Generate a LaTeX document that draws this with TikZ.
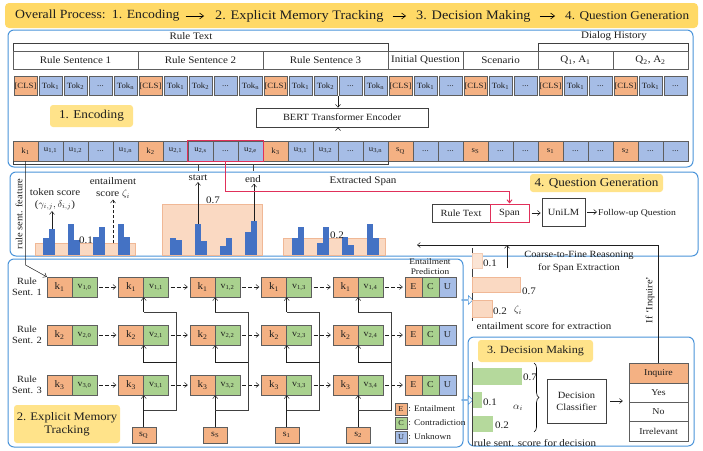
\documentclass[tikz,border=0pt]{standalone}
\usepackage{fontspec}
\setmainfont{Liberation Serif}[FakeStretch=1.1]
\usetikzlibrary{arrows.meta,calc,decorations.pathreplacing,fit,shapes.arrows}
\definecolor{orc}{HTML}{F4B183}
\definecolor{blc}{HTML}{A6BDE6}
\definecolor{grc}{HTML}{A9D18E}
\definecolor{barb}{HTML}{4472C4}
\definecolor{boxb}{HTML}{4A94DA}
\definecolor{ylw}{HTML}{FFE38A}
\definecolor{bann}{HTML}{FFD966}
\definecolor{redl}{HTML}{E0305A}
\definecolor{bgor}{HTML}{FAD9C2}
\definecolor{bgorl}{HTML}{F0B896}
\definecolor{cellln}{HTML}{5E5E5E}
\definecolor{txt}{HTML}{1E1E1E}
\definecolor{lgrn}{HTML}{B5D99C}
\newcommand{\fsz}[2]{\fontsize{#1}{#2}\selectfont}
\begin{document}
\begin{tikzpicture}[x=1pt,y=-1pt,
  every node/.style={text=txt},
  cellbase/.style={draw=cellln, line width=0.4pt, inner sep=0pt, minimum height=19pt, font=\fsz{8}{9}},
  segcell/.style={draw=cellln, line width=0.4pt, minimum height=18pt, inner sep=0pt, font=\fsz{10}{11}},
  bbox/.style={draw=boxb, line width=1pt, rounded corners=6pt, inner sep=0pt},
  plainbox/.style={draw=txt!85, line width=0.6pt, inner sep=1pt, fill=white, font=\fsz{9.5}{11}},
  ylab/.style={fill=ylw, rounded corners=3pt, inner sep=2pt},
  arr/.style={-{Straight Barb[length=3pt,width=5pt]}, line width=0.5pt, draw=txt},
  conn/.style={line width=0.5pt, draw=txt!85},
  darr/.style={arr, dash pattern=on 4pt off 2pt, shorten <=2pt, shorten >=2pt},
  lbl/.style={font=\fsz{10}{11}, inner sep=1pt},
  bann/.style={anchor=west, font=\fsz{12}{14}, inner sep=0pt},
  bannarr/.style={-{Straight Barb[length=4pt,width=6pt]}, line width=0.6pt},
]
\useasboundingbox (0,0) rectangle (703,450);
\fill[white] (0,0) rectangle (703,450);

% ---------- banner ----------
\node[fill=bann, rounded corners=4pt, minimum width=693pt, minimum height=25pt, inner sep=0pt] (banner) at (351.5,15.5) {};
\node[bann, font=\fsz{12.5}{14}] (p1) at (15,16) {Overall Process:\enspace 1. Encoding};
\node[bann, font=\fsz{13}{14}] (p2) at (215,16) {2. Explicit Memory Tracking};
\node[bann, font=\fsz{13}{14}] (p3) at (416,16) {3. Decision Making};
\node[bann] (p4) at (565,16) {4. Question Generation};
\draw[bannarr] ([xshift=6pt]p1.east) -- ([xshift=-11pt]p2.west);
\draw[bannarr] ([xshift=9pt]p2.east) -- ([xshift=-10pt]p3.west);
\draw[bannarr] ([xshift=9pt]p3.east) -- ([xshift=-10pt]p4.west);

% ---------- big boxes ----------
\node[bbox, minimum width=685pt, minimum height=137pt] (encbox) at (350.5,98.5) {};
\node[bbox, minimum width=688pt, minimum height=84pt] (midbox) at (354,214) {};
\node[bbox, minimum width=455pt, minimum height=188pt] (membox) at (235.5,353) {};
\node[bbox, minimum width=226pt, minimum height=109pt] (decbox) at (581,391.5) {};

% ---------- encoding: segments ----------
\node[lbl] (rtl) at (191,36) {Rule Text};
\node[lbl] (dhl) at (614,36) {Dialog History};
\node[segcell, minimum width=125pt] (seg1) at (75.5,60) {Rule Sentence 1};
\node[segcell, minimum width=125pt] (seg2) at (200.5,60) {Rule Sentence 2};
\node[segcell, minimum width=125pt] (seg3) at (325.5,60) {Rule Sentence 3};
\node[segcell, minimum width=75pt] (seg4) at (425.5,60) {Initial Question};
\node[segcell, minimum width=75pt] (seg5) at (500.5,60) {Scenario};
\node[segcell, minimum width=75pt] (seg6) at (575.5,60) {Q\textsubscript{1}, A\textsubscript{1}};
\node[segcell, minimum width=75pt] (seg7) at (650.5,60) {Q\textsubscript{2}, A\textsubscript{2}};
\draw[conn] (seg1.north west) -- ++(0,-8) -| (seg3.north east);
\draw[conn] (seg6.north west) -- ++(0,-8) -| (seg7.north east);

% token row 1
\foreach \i/\cc/\tx in {0/orc/{[CLS]},1/blc/{Tok\textsubscript{1}},2/blc/{Tok\textsubscript{2}},3/blc/{...},4/blc/{Tok\textsubscript{n}},
  5/orc/{[CLS]},6/blc/{Tok\textsubscript{1}},7/blc/{Tok\textsubscript{2}},8/blc/{...},9/blc/{Tok\textsubscript{n}},
  10/orc/{[CLS]},11/blc/{Tok\textsubscript{1}},12/blc/{Tok\textsubscript{2}},13/blc/{...},14/blc/{Tok\textsubscript{n}},
  15/orc/{[CLS]},16/blc/{Tok\textsubscript{1}},17/blc/{...},18/orc/{[CLS]},19/blc/{Tok\textsubscript{1}},20/blc/{...},
  21/orc/{[CLS]},22/blc/{Tok\textsubscript{1}},23/blc/{...},24/orc/{[CLS]},25/blc/{Tok\textsubscript{1}},26/blc/{...}}
  {\node[cellbase, fill=\cc, minimum width=23.5pt] (t\i) at ({25.5+25*\i},86) {\tx};}

% BERT
\node[plainbox, minimum width=172pt, minimum height=19pt] (bert) at (342,117.5) {BERT Transformer Encoder};
\coordinate (a1) at (338,96);
\draw[arr] (a1) -- (a1 |- bert.north);

% token row 2
\foreach \i/\cc/\tx in {0/orc/{k\textsubscript{1}},1/blc/{u\textsubscript{1,1}},2/blc/{u\textsubscript{1,2}},3/blc/{...},4/blc/{u\textsubscript{1,n}},
  5/orc/{k\textsubscript{2}},6/blc/{u\textsubscript{2,1}},7/blc/{u\textsubscript{2,s}},8/blc/{...},9/blc/{u\textsubscript{2,e}},
  10/orc/{k\textsubscript{3}},11/blc/{u\textsubscript{3,1}},12/blc/{u\textsubscript{3,2}},13/blc/{...},14/blc/{u\textsubscript{3,n}},
  15/orc/{s\textsubscript{Q}},16/blc/{...},17/blc/{...},18/orc/{s\textsubscript{S}},19/blc/{...},20/blc/{...},
  21/orc/{s\textsubscript{1}},22/blc/{...},23/blc/{...},24/orc/{s\textsubscript{2}},25/blc/{...},26/blc/{...}}
  {\node[cellbase, fill=\cc, minimum width=25pt, minimum height=20pt] (r\i) at ({25.5+25*\i},151) {\tx};}
\draw[arr] (bert.south -| a1) -- (bert.south -| a1 |- r12.north);
\node[draw=redl, line width=1pt, inner sep=0pt, fit=(r7)(r9)] (spanbox) {};
\node[ylab, minimum width=83pt, minimum height=22pt, font=\fsz{12}{14}] (encl) at (91.5,116) {1. Encoding};

% bracket below row 2
\draw[conn] (r0.south west) -- ++(0,3) -| (r14.south east);
\draw[conn] (198,164) -- (198,171);
\draw[conn] (253,164) -- (253,171);

% ---------- middle band: bar chart ----------
\node[rotate=90, font=\fsz{9.5}{11}, inner sep=1pt] (rsf) at (19,214) {rule sent. feature};
\draw[draw=bgorl, fill=bgor, line width=0.4pt] (35,243) rectangle (135,255);
\draw[draw=bgorl, fill=bgor, line width=0.4pt] (162,204) rectangle (262,255);
\draw[draw=bgorl, fill=bgor, line width=0.4pt] (283,238) rectangle (385,255);
\foreach \xa/\yt in {43/238,49/229,68/224,74/240,93/237,99/227,118/224,124/237,
  170/238,176/240,195/224,201/241,220/246,226/238,245/232,251/221,
  292/238,298/227,317/243,323/227,342/237,348/245,367/224,373/238}
  {\fill[barb] (\xa,\yt) rectangle ++(6,255-\yt);}
\node[lbl] (v01) at (86,240) {0.1};
\node[lbl] (v07) at (213,200) {0.7};
\node[lbl] (v02) at (337,235) {0.2};
\node[lbl] (ts1) at (55,192) {token score};
\node[lbl] (ts2) at (55,205) {($\gamma_{i,j}, \delta_{i,j}$)};
\node[lbl] (es1) at (113,181) {entailment};
\node[lbl] (es2) at (113,194) {score $\zeta_i$};
\node[lbl] (startl) at (198,178) {start};
\node[lbl] (endl) at (253,179) {end};
\node[lbl] (exsp) at (363,181) {Extracted Span};
\draw[arr] (52,229) -- (ts2.south -| 52,0);
\draw[arr, dash pattern=on 3pt off 2pt] (113,243) -- (es2.south);
\draw[arr] (198,224) -- (startl.south);
\draw[arr] (254,221) -- (endl.south -| 254,0);

% ---------- question generation ----------
\node[ylab, minimum width=133pt, minimum height=18pt, font=\fsz{12}{14}] (qgl) at (596.5,183) {4. Question Generation};
\node[plainbox, minimum width=58pt, minimum height=18pt] (rtq) at (461,213) {Rule Text};
\node[plainbox, draw=redl, line width=1pt, minimum width=39pt, minimum height=18pt] (spq) at (509.5,213) {Span};
\node[plainbox, minimum width=43pt, minimum height=28pt] (unilm) at (563.5,212) {UniLM};
\node[anchor=west, font=\fsz{8.8}{10}, inner sep=1pt] (fq) at (597,213) {Follow-up Question};
\draw[arr, shorten <=2pt, shorten >=1pt] (spq.east) -- (unilm.west |- spq.east);
\draw[arr, shorten <=2pt] (unilm.east) -- (fq.west |- unilm.east);
\draw[redl, line width=1pt, -{Straight Barb[length=3pt,width=5pt]}] (spanbox.south) -- ++(0,30) -| (spq.north);

% ---------- memory tracking ----------
\foreach \r/\yy in {1/287,2/335,3/385} {
  \node[align=center, font=\fsz{9.5}{11}, inner sep=0pt] (rl\r) at (27,\yy) {Rule\\Sent. \r};
  \foreach \c in {0,...,4} {
    \node[cellbase, fill=orc, minimum width=25pt, minimum height=20pt, font=\fsz{10}{11}] (k\r\c) at ({59.5+71.5*\c},\yy) {k\textsubscript{\r}};
    \node[cellbase, fill=grc, minimum width=25pt, minimum height=20pt, font=\fsz{9}{10}] (v\r\c) at ({84.5+71.5*\c},\yy) {v\textsubscript{\r,\c}};
  }
  \node[cellbase, fill=orc, minimum width=17pt, minimum height=20pt, font=\fsz{9}{10}] (e\r) at (413.5,\yy) {E};
  \node[cellbase, fill=grc, minimum width=17pt, minimum height=20pt, font=\fsz{9}{10}] (c\r) at (430.5,\yy) {C};
  \node[cellbase, fill=blc, minimum width=17pt, minimum height=20pt, font=\fsz{9}{10}] (u\r) at (447.5,\yy) {U};
  \foreach \c [evaluate=\c as \n using int(\c+1)] in {0,...,3} {\draw[darr] (v\r\c.east) -- (k\r\n.west);}
  \draw[darr] (v\r4.east) -- (e\r.west);
}
\node[align=center, font=\fsz{8.5}{10}, inner sep=0pt] (entp) at (430,267) {Entailment\\Prediction};
\draw[arr] (r0.south) -- (r0.south |- 0,265) -- (k10.north west);

\foreach \c/\lab in {1/Q,2/S,3/1,4/2} {
  \node[cellbase, fill=orc, minimum width=24pt, minimum height=16pt, font=\fsz{9}{10}] (s\c) at (k3\c.south east |- 0,435) {s\textsubscript{\lab}};
  \draw[arr] (s\c.north) -- (k3\c.south east);
  \draw[conn] ($(s\c.north)+(0,-17)$) -| ($(k1\c.south east)+(33,15)$) -- ($(k1\c.south east)+(0,15)$);
  \draw[arr] ($(k1\c.south east)+(0,15)$) -- (k1\c.south east);
  \draw[arr] ($(k2\c.south east)+(33,17)$) -- ($(k2\c.south east)+(0,17)$) -- (k2\c.south east);
}
\node[ylab, minimum width=106pt, minimum height=38pt, align=center, font=\fsz{11.5}{13.5}] (emtl) at (67,424) {2. Explicit Memory\\Tracking};

% legend
\node[cellbase, fill=orc, minimum width=12pt, minimum height=12pt, font=\fsz{7.5}{8}] (lge) at (401,409) {E};
\node[cellbase, fill=grc, minimum width=12pt, minimum height=12pt, font=\fsz{7.5}{8}] (lgc) at (401,423) {C};
\node[cellbase, fill=blc, minimum width=12pt, minimum height=12pt, font=\fsz{7.5}{8}] (lgu) at (401,437) {U};
\node[anchor=west, font=\fsz{8.5}{9}, inner sep=1pt] (lget) at (lge.east) {: Entailment};
\node[anchor=west, font=\fsz{8.5}{9}, inner sep=1pt] (lgct) at (lgc.east) {: Contradiction};
\node[anchor=west, font=\fsz{8.5}{9}, inner sep=1pt] (lgut) at (lgu.east) {: Unknown};

% hollow arrows
\node[single arrow, draw=boxb, fill=white, line width=0.6pt, minimum height=11pt, minimum width=9pt, single arrow head extend=2pt, inner sep=0pt] (ha1) at (467,300) {};
\node[single arrow, draw=boxb, fill=white, line width=0.6pt, minimum height=11pt, minimum width=9pt, single arrow head extend=2pt, inner sep=0pt] (ha2) at (467,400) {};

% ---------- entailment score chart ----------
\draw[conn] (472,248) -- (472,321);
\draw[draw=bgorl!70, fill=bgor!70, line width=0.4pt] (472,253) rectangle (482,268);
\draw[draw=bgorl, fill=bgor, line width=0.4pt] (472,277) rectangle (520,292);
\draw[draw=bgorl, fill=bgor, line width=0.4pt] (472,300) rectangle (492,317);
\node[lbl] (e01) at (490,263) {0.1};
\node[lbl] (e07) at (529,291) {0.7};
\node[lbl] (e02) at (500,311) {0.2};
\node[lbl] (zeta) at (518,310) {$\zeta_i$};
\node[lbl] (esx) at (544,326) {entailment score for extraction};
\node[font=\fsz{9.5}{11}, inner sep=1pt] (cf1) at (579,255) {Coarse-to-Fine Reasoning};
\node[font=\fsz{9.5}{11}, inner sep=1pt] (cf2) at (579,268) {for Span Extraction};
\coordinate (fbend) at (417,245);
\coordinate (cfa) at (507,268);
\draw[arr] (cfa) -- (cfa |- fbend);

% ---------- decision making ----------
\node[ylab, minimum width=115pt, minimum height=22pt, font=\fsz{11}{13}] (dml) at (535.5,351) {3. Decision Making};
\draw[conn] (472,362) -- (472,446);
\fill[lgrn] (473,368) rectangle (522,385);
\fill[lgrn] (473,392) rectangle (482,408);
\fill[lgrn] (473,416) rectangle (493,432);
\node[lbl] (d07) at (530,377) {0.7};
\node[lbl] (d01) at (490,402) {0.1};
\node[lbl] (d02) at (502,425) {0.2};
\node[lbl] (alpha) at (518,408) {$\alpha_i$};
\node[lbl] (rsd) at (535,443) {rule sent. score for decision};
\draw[decorate, decoration={brace, amplitude=5pt}, line width=0.6pt] (534,363) -- (534,432);
\node[plainbox, minimum width=59pt, minimum height=44pt, align=center, font=\fsz{9.5}{12}] (dc) at (576.5,401) {Decision\\Classifier};
\node[cellbase, fill=orc, minimum width=59pt, minimum height=20pt, font=\fsz{9}{10}] (inq) at (658.5,373) {Inquire};
\node[cellbase, fill=white, minimum width=59pt, minimum height=19pt, font=\fsz{9}{10}] (yes) at (658.5,392.5) {Yes};
\node[cellbase, fill=white, minimum width=59pt, minimum height=19pt, font=\fsz{9}{10}] (no) at (658.5,411.5) {No};
\node[cellbase, fill=white, minimum width=59pt, minimum height=20pt, font=\fsz{9}{10}] (irr) at (658.5,431) {Irrelevant};
\draw[arr, shorten <=4pt, shorten >=6pt] (dc.east) -- (dc.east -| yes.west);
\draw[arr] (inq.north) |- (fbend);
\node[rotate=90, font=\fsz{9.5}{11}, inner sep=1pt] (ifinq) at (650,300) {If `Inquire'};
\end{tikzpicture}
\end{document}
